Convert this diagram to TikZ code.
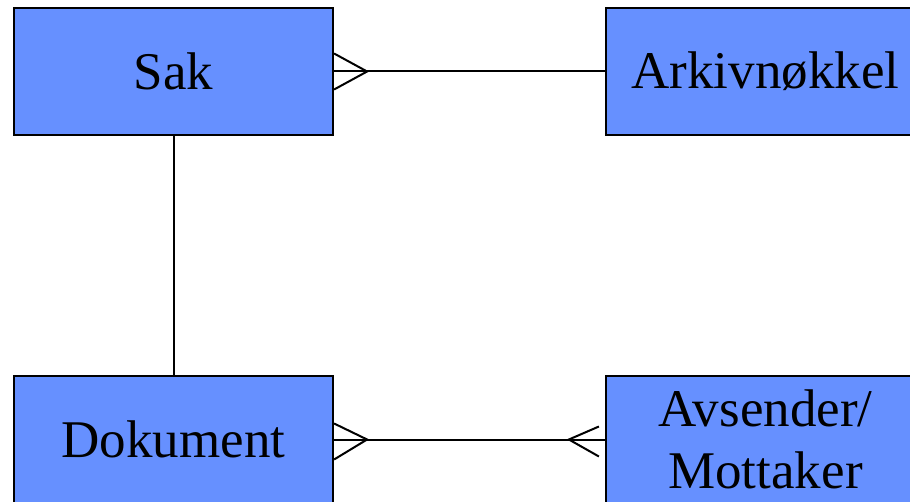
\documentclass[tikz,border=0pt]{standalone}
\usepackage{fontspec}
\setmainfont{Liberation Serif}
\definecolor{entblue}{RGB}{102,144,255}
\tikzset{
  entity/.style={draw, fill=entblue, line width=2.2pt, minimum width=319pt,
    minimum height=127pt, inner sep=0pt, align=center,
    font=\fontsize{53}{62}\selectfont},
  rel/.style={line width=2pt}
}
\begin{document}
\begin{tikzpicture}[x=1pt,y=-1pt]
\useasboundingbox (0,0) rectangle (910,502);
\node[entity] (sak) at (173.5,71.5) {Sak};
\node[entity] (ark) at (765.5,71.5) {Arkivn\o kkel};
\node[entity] (dok) at (173.5,439.5) {Dokument};
\node[entity] (avs) at (765.5,439.5) {Avsender/\\Mottaker};

% sak - arkivnokkel, many on sak side
\path (sak.east) +(33,0) coordinate (sakx);
\draw[rel] (sak.east) -- (ark.west);
\draw[rel] (sak.east) ++(0,-18) -- (sakx) -- ++(-33,18);

% sak - dokument
\draw[rel] (sak) -- (dok);

% dokument - avsender, many on both sides
\path (dok.east) +(33,0) coordinate (dokx);
\path (avs.west) +(-36,0) coordinate (avsx);
\draw[rel] (dok.east) -- (avs.west);
\draw[rel] (dok.east) ++(0,-16) -- (dokx) -- ++(-33,20);
\draw[rel] (avs.west) ++(-6,-13) -- (avsx) -- ++(30,17);
\end{tikzpicture}
\end{document}
